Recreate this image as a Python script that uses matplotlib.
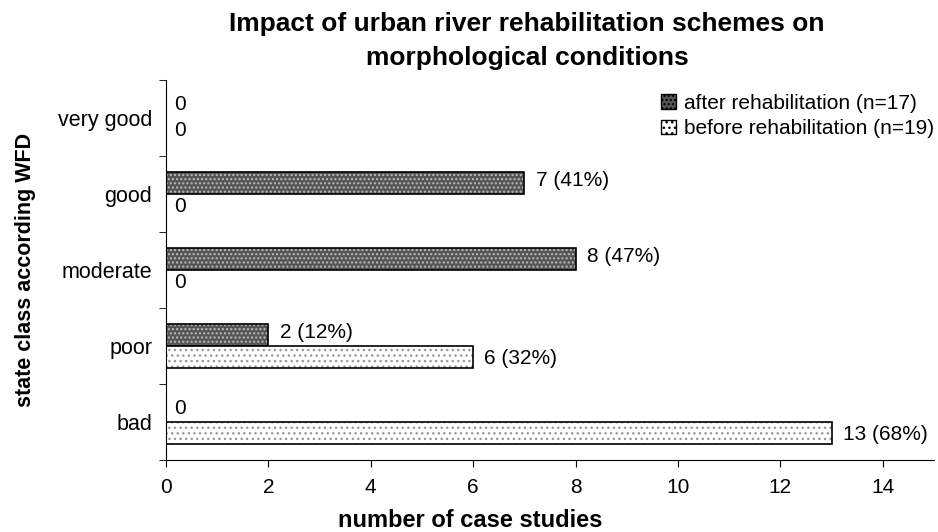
import matplotlib.pyplot as plt
from matplotlib.patches import Patch
import numpy as np

plt.rcParams['font.family'] = ['Liberation Sans', 'DejaVu Sans']
plt.rcParams['hatch.linewidth'] = 1.0

# data
categories = ['bad', 'poor', 'moderate', 'good', 'very good']
after = [0, 2, 8, 7, 0]
before = [13, 6, 0, 0, 0]
after_pct = [None, 12, 47, 41, None]
before_pct = [68, 32, None, None, None]

fig = plt.figure(figsize=(9.38, 5.32), dpi=100)
ax = fig.add_axes([0.177, 0.1353, 0.8187, 0.7143])

y = np.arange(len(categories))
h = 0.29

# after rehabilitation: dark grey with light dots
ax.barh(y + h / 2, after, height=h, color='#555555', edgecolor='#bbbbbb',
        hatch='....', linewidth=0)
ax.barh(y + h / 2, after, height=h, fill=False, edgecolor='black', linewidth=1.2)
# before rehabilitation: white with grey dots
ax.barh(y - h / 2, before, height=h, color='white', edgecolor='#999999',
        hatch='...', linewidth=0)
ax.barh(y - h / 2, before, height=h, fill=False, edgecolor='black', linewidth=1.2)

def label(v, pct):
    return '0' if v == 0 else f'{v} ({pct}%)'

for i in range(len(categories)):
    dx = 6 if after[i] == 0 else 8
    ax.annotate(label(after[i], after_pct[i]), (after[i], y[i] + h / 2),
                xytext=(dx, 2), textcoords='offset points', va='center', fontsize=15)
    dx = 6 if before[i] == 0 else 8
    ax.annotate(label(before[i], before_pct[i]), (before[i], y[i] - h / 2),
                xytext=(dx, -1), textcoords='offset points', va='center', fontsize=15)

ax.set_xlim(0, 15)
ax.set_ylim(-0.5, 4.5)
ax.set_xticks(range(0, 15, 2))
ax.set_yticks(y)
ax.set_yticklabels(categories)
ax.set_yticks(np.arange(-0.5, 5, 1), minor=True)
ax.tick_params(axis='y', which='major', length=0, pad=10, labelsize=15.5)
ax.tick_params(axis='y', which='minor', length=5, direction='out')
ax.tick_params(axis='x', length=5, direction='out', pad=8, labelsize=15)
ax.spines['top'].set_visible(False)
ax.spines['right'].set_visible(False)

ax.set_xlabel('number of case studies', fontsize=17, fontweight='bold')
ax.xaxis.set_label_coords(0.396, -0.13)
ax.set_ylabel('state class according WFD', fontsize=15.5, fontweight='bold', labelpad=16)
ax.set_title('Impact of urban river rehabilitation schemes on\nmorphological conditions',
             fontsize=19, fontweight='bold', x=0.47, pad=11, linespacing=1.5)

handles = [Patch(facecolor='#555555', edgecolor='black', hatch='....', label='after rehabilitation (n=17)'),
           Patch(facecolor='white', edgecolor='black', hatch='...', label='before rehabilitation (n=19)')]
ax.legend(handles=handles, loc='upper right', bbox_to_anchor=(0.998, 1 - 92 / 532),
          bbox_transform=fig.transFigure, frameon=False, borderaxespad=0, borderpad=0.1,
          fontsize=15, handlelength=0.7, handleheight=0.7, handletextpad=0.4,
          labelspacing=0.3)

fig.savefig('out.png', dpi=100)
